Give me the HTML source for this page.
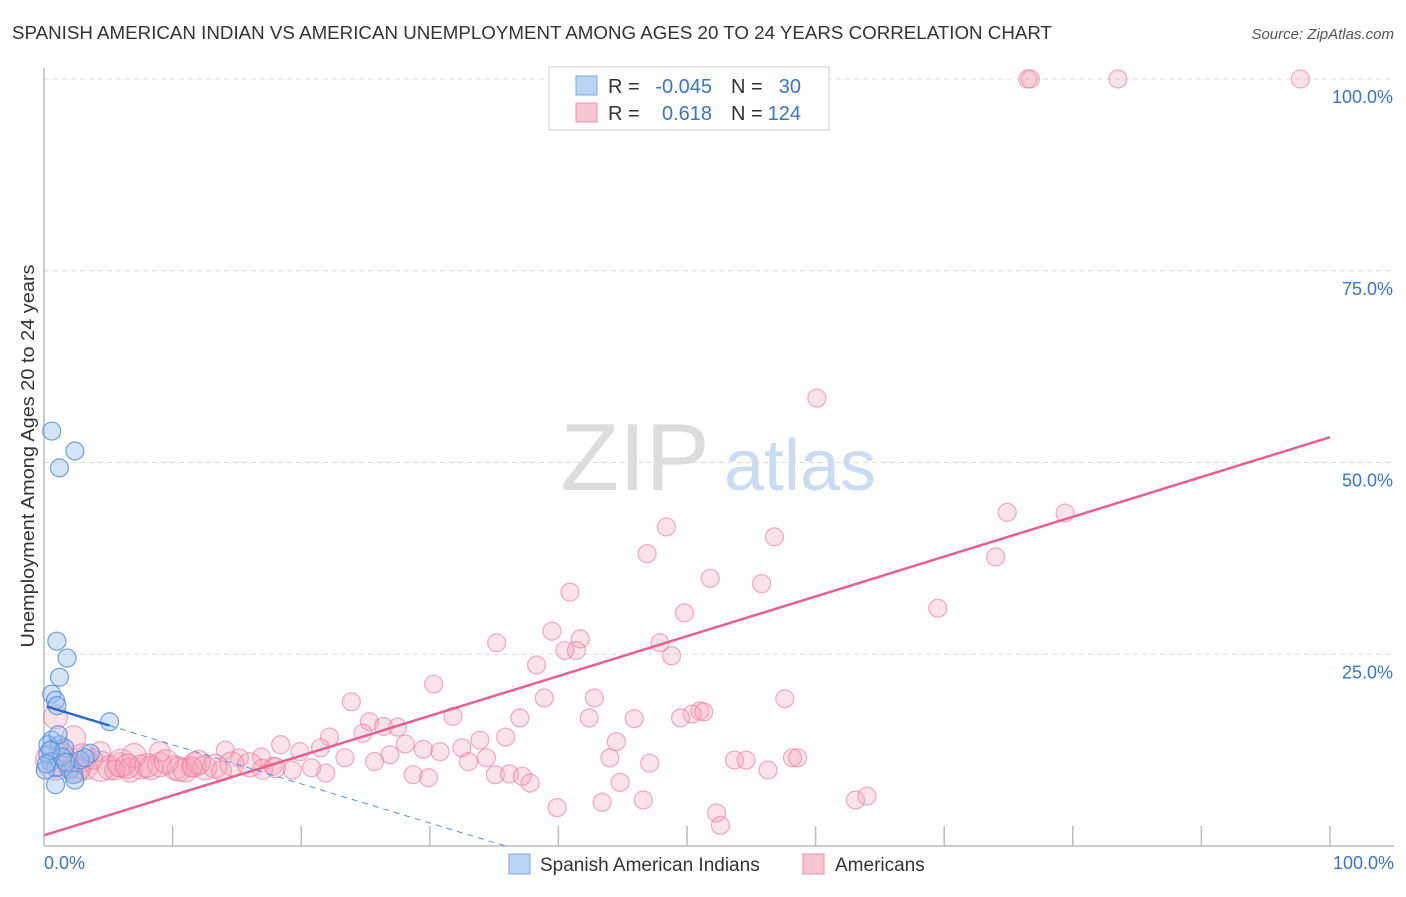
<!DOCTYPE html>
<html><head><meta charset="utf-8"><style>
body{margin:0;background:#fff;font-family:"Liberation Sans",sans-serif;}
svg text{font-family:"Liberation Sans",sans-serif;}
</style></head><body>
<svg id="c" width="1406" height="892">
<text x="12" y="39" font-size="18" fill="#333" textLength="1040" lengthAdjust="spacingAndGlyphs">SPANISH AMERICAN INDIAN VS AMERICAN UNEMPLOYMENT AMONG AGES 20 TO 24 YEARS CORRELATION CHART</text>
<text x="1394" y="39" font-size="15" fill="#555" text-anchor="end" font-style="italic">Source: ZipAtlas.com</text>
<g id="grid"></g>
<text x="635" y="490" font-size="96" fill="#ddd" font-family="Liberation Serif" text-anchor="middle">ZIP</text>
<text x="800" y="490" font-size="72" fill="#c9dcf2" text-anchor="middle">atlas</text>
<g id="pts"></g>
<g id="lines"></g>
<text transform="translate(34,456) rotate(-90)" font-size="18" fill="#333" text-anchor="middle" textLength="383" lengthAdjust="spacingAndGlyphs">Unemployment Among Ages 20 to 24 years</text>
<text x="44" y="869" font-size="18" fill="#3a75c4">0.0%</text>
<text x="1394" y="869" font-size="18" fill="#3a75c4" text-anchor="end">100.0%</text>
<g>
<rect x="549" y="67" width="280" height="63" fill="#fff" stroke="#ccc"/>
<rect x="576" y="76" width="21" height="19" fill="#b9d4f5" stroke="#7fa9e0"/>
<rect x="576" y="103" width="21" height="19" fill="#f9c6d5" stroke="#ec93ad"/>
<text x="608" y="93" font-size="20" fill="#333">R =</text>
<text x="712" y="93" font-size="20" fill="#3a75c4" text-anchor="end">-0.045</text>
<text x="731" y="93" font-size="20" fill="#333">N =</text>
<text x="801" y="93" font-size="20" fill="#3a75c4" text-anchor="end">30</text>
<text x="608" y="120" font-size="20" fill="#333">R =</text>
<text x="712" y="120" font-size="20" fill="#3a75c4" text-anchor="end">0.618</text>
<text x="731" y="120" font-size="20" fill="#333">N =</text>
<text x="801" y="120" font-size="20" fill="#3a75c4" text-anchor="end">124</text>
</g>
<g>
<rect x="509" y="854" width="21" height="20" fill="#b9d4f5" stroke="#7fa9e0"/>
<text x="540" y="871" font-size="19" fill="#333">Spanish American Indians</text>
<rect x="803" y="854" width="21" height="20" fill="#f9c6d5" stroke="#ec93ad"/>
<text x="835" y="871" font-size="19" fill="#333">Americans</text>
</g>
</svg>
<script>
const yTicks=[25,50,75,100];
const yTickLabels=["25.0%","50.0%","75.0%","100.0%"];
const xTicks=[10,20,30,40,50,60,70,80,90,100];
const pinkX=[76.5,76.7,83.5,97.7,60.1,48.4,46.9,56.8,74.9,79.4,74.0,51.8,55.8,40.9,69.5,49.8,39.5,41.7,35.2,40.5,41.4,47.9,48.8,38.3,30.3,23.9,38.9,42.8,57.6,51.0,50.4,51.3,49.5,31.8,37.0,42.4,45.9,25.3,26.4,27.5,22.2,24.8,35.9,44.5,14.1,18.4,21.5,28.1,32.5,33.9,29.5,30.8,19.9,26.9,23.4,16.9,15.2,34.4,33.0,44.0,47.1,53.7,54.6,58.2,58.6,56.3,25.7,35.1,36.2,37.2,28.7,29.9,21.9,20.8,19.3,17.8,37.8,44.8,39.9,43.4,46.6,63.1,64.0,52.3,52.6,0.9,0.9,2.0,3.2,4.4,5.1,5.9,6.7,7.5,8.3,9.0,10.2,11.0,11.7,12.5,13.3,14.6,16.0,2.3,4.4,9.0,1.5,3.0,6.0,8.0,10.5,12.0,13.8,2.8,5.5,7.0,1.2,3.8,2.5,6.5,9.5,11.5,17.0,18.0];
const pinkY=[100,100,100,100,58.4,41.6,38.1,40.3,43.5,43.4,37.7,34.9,34.2,33.1,31.0,30.4,28.0,27.0,26.5,25.5,25.5,26.5,24.8,23.6,21.1,18.8,19.3,19.3,19.2,17.6,17.2,17.5,16.7,16.9,16.7,16.7,16.6,16.2,15.6,15.5,14.2,14.7,14.2,13.6,12.5,13.2,12.8,13.3,12.8,13.8,12.6,12.3,12.3,11.9,11.5,11.6,11.5,11.5,11.0,11.5,10.8,11.2,11.2,11.5,11.5,9.9,11.0,9.3,9.4,9.1,9.3,8.9,9.5,10.2,9.9,10.4,8.2,8.3,5.0,5.7,6.0,6.0,6.5,4.3,2.7,16.8,11.2,10.6,10.2,10.4,10.2,10.6,9.9,10.3,10.2,10.6,10.2,9.9,10.6,10.2,10.4,10.7,10.6,14.1,12.3,12.3,12.0,11.5,10.8,10.5,10.0,10.9,9.8,10.0,9.9,11.8,10.8,11.3,10.1,10.4,11.0,10.3,10.0,10.2];
const pinkR=[9,9,9,9,9,9,9,9,9,9,9,9,9,9,9,9,9,9,9,9,9,9,9,9,9,9,9,9,9,9,9,9,9,9,9,9,9,9,9,9,9,9,9,9,9,9,9,9,9,9,9,9,9,9,9,9,9,9,9,9,9,9,9,9,9,9,9,9,9,9,9,9,9,9,9,9,9,9,9,9,9,9,9,9,9,12,20,12,12,15,12,12,12,12,12,12,12,12,12,12,12,12,12,12,10,10,10,14,14,12,12,12,10,10,10,12,12,10,14,12,12,10,10,10];
const blueX=[0.6,2.4,1.2,1.0,1.8,1.2,0.6,0.9,1.0,5.1,3.6,0.6,1.2,1.6,0.3,0.5,0.9,2.0,2.3,0.9,2.4,0.3,1.4,2.8,0.1,1.1,1.7,0.5,3.2,0.2];
const blueY=[54.1,51.5,49.3,26.7,24.5,22.0,19.8,19.0,18.3,16.2,12.1,13.8,13.2,12.8,11.9,11.0,10.2,9.9,9.3,8.0,8.6,13.2,11.6,11.2,9.9,14.5,10.9,12.5,11.5,10.7];
const pinkTrend=[1.4,53.3];
const blueTrend=[18.3,-0.51];
const X0=44,X1=1330,Y0=846,Y100=79;
const sx=v=>X0+(X1-X0)*v/100, sy=v=>Y0-(Y0-Y100)*v/100;
const NS="http://www.w3.org/2000/svg";
function mk(t,a,p){const e=document.createElementNS(NS,t);for(const k in a)e.setAttribute(k,a[k]);p.appendChild(e);return e;}
const grid=document.getElementById('grid');
yTicks.forEach((t,i)=>{
 const l=mk('line',{x1:X0,x2:1394,y1:sy(t),y2:sy(t),stroke:'#ddd','stroke-dasharray':'5,4'},grid);
 
 
 const tx=mk('text',{x:1393,y:sy(t)+24,'font-size':18,fill:'#3a75c4','text-anchor':'end'},grid);
 tx.textContent=yTickLabels[i];
 
 
});
const ax=mk('line',{x1:X0,x2:X0,y1:68,y2:Y0,stroke:'#bbb','stroke-width':1.5},grid);


const bx=mk('line',{x1:X0,x2:1394,y1:Y0,y2:Y0,stroke:'#bbb','stroke-width':1.5},grid);


xTicks.forEach(t=>{
 const l=mk('line',{x1:sx(t),x2:sx(t),y1:826,y2:Y0,stroke:'#bbb','stroke-width':1.5},grid);
 
 
});
const pts=document.getElementById('pts');
pinkX.forEach((x,i)=>{
 const c=mk('circle',{cx:sx(x),cy:sy(pinkY[i]),r:pinkR[i],fill:'rgba(244,160,187,0.3)',stroke:'rgba(232,120,155,0.6)','stroke-width':1.2},pts);
 
 
});
blueX.forEach((x,i)=>{
 const c=mk('circle',{cx:sx(x),cy:sy(blueY[i]),r:9,fill:'rgba(150,190,240,0.4)',stroke:'rgba(80,140,215,0.8)','stroke-width':1.2},pts);
 
 
});
const ln=document.getElementById('lines');
const pl=mk('line',{x1:sx(0),y1:sy(pinkTrend[0]),x2:sx(100),y2:sy(pinkTrend[1]),stroke:'#e8608d','stroke-width':2.5},ln);


const bEnd=-blueTrend[0]/blueTrend[1];
const bd=mk('line',{x1:sx(5.1),y1:sy(blueTrend[0]+blueTrend[1]*5.1),x2:sx(bEnd),y2:sy(0),stroke:'#5a8fd8','stroke-width':1,'stroke-dasharray':'6,5'},ln);


const bl=mk('line',{x1:sx(0.2),y1:sy(blueTrend[0]+blueTrend[1]*0.2),x2:sx(5.1),y2:sy(blueTrend[0]+blueTrend[1]*5.1),stroke:'#2a6bd0','stroke-width':2.5},ln);


</script>
</body></html>
